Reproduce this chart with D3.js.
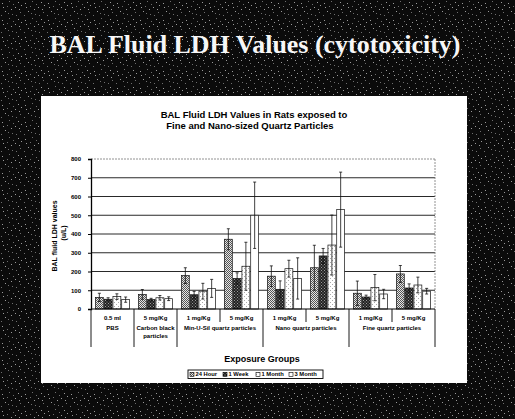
<!doctype html>
<html>
<head>
<meta charset="utf-8">
<title>BAL Fluid LDH Values</title>
<script src="https://cdnjs.cloudflare.com/ajax/libs/d3/7.8.5/d3.min.js"></script>
<style>
  html, body { margin: 0; padding: 0; background: #0b0b0b; }
  svg { display: block; }
  text { font-family: "Liberation Sans", Arial, sans-serif; }
</style>
</head>
<body>
<div id="chart"></div>
<script>
// data
const seriesNames = ['24 Hour', '1 Week', '1 Month', '3 Month'];
const doseLabels = ['0.5 ml', '5 mg/Kg', '1 mg/Kg', '5 mg/Kg', '1 mg/Kg', '5 mg/Kg', '1 mg/Kg', '5 mg/Kg'];
const groupLabels = ['PBS', 'Carbon black particles', 'Min-U-Sil quartz particles', 'Nano quartz particles', 'Fine quartz particles'];
const groupSpans = [1, 1, 2, 2, 2];

const hour24 = [62, 78, 178, 372, 175, 220, 84, 187];
const week1 = [52, 50, 76, 163, 105, 283, 64, 112];
const month1 = [66, 60, 95, 228, 215, 341, 114, 128];
const month3 = [50, 55, 110, 500, 163, 530, 80, 95];

const hour24Err = [22, 26, 42, 56, 55, 120, 65, 45];
const week1Err = [8, 7, 18, 30, 45, 40, 10, 22];
const month1Err = [15, 12, 42, 128, 45, 160, 70, 42];
const month3Err = [14, 10, 48, 177, 110, 200, 25, 15];

const yTicks = d3.range(0, 801, 100);

const W = 515, H = 419;
const svg = d3.select('#chart').append('svg')
  .attr('width', W).attr('height', H);

const defs = svg.append('defs');

// scanned-looking speckle on the slide background
const speck = defs.append('pattern').attr('id', 'speck')
  .attr('width', 23).attr('height', 17).attr('patternUnits', 'userSpaceOnUse');
speck.append('rect').attr('width', 23).attr('height', 17).attr('fill', '#0b0b0b');
[[2, 3], [9, 1], [15, 7], [20, 12], [5, 11], [12, 14], [18, 2], [7, 6], [21, 5], [1, 15],
 [11, 9], [16, 15], [3, 7], [13, 4], [19, 9], [8, 13]]
  .forEach((p, i) => speck.append('rect').attr('x', p[0]).attr('y', p[1])
    .attr('width', 1).attr('height', 1).attr('fill', i % 2 ? '#6e6e6e' : '#9a9a9a'));

// bar fills
function dots(id, bg, fg, step) {
  const p = defs.append('pattern').attr('id', id)
    .attr('width', step).attr('height', step).attr('patternUnits', 'userSpaceOnUse');
  p.append('rect').attr('width', step).attr('height', step).attr('fill', bg);
  p.append('rect').attr('width', 1).attr('height', 1).attr('fill', fg);
  p.append('rect').attr('x', step / 2).attr('y', step / 2).attr('width', 1).attr('height', 1).attr('fill', fg);
}
dots('p24', '#e6e6e6', '#555', 2);
dots('p1w', '#222', '#999', 3);
dots('p1m', '#fff', '#aaa', 4);
const fills = ['url(#p24)', 'url(#p1w)', 'url(#p1m)', '#fff'];

svg.append('rect').attr('width', W).attr('height', H).attr('fill', 'url(#speck)');

// slide title
svg.append('text')
  .attr('x', 255).attr('y', 53)
  .attr('text-anchor', 'middle')
  .attr('textLength', 411).attr('lengthAdjust', 'spacingAndGlyphs')
  .style('font-family', '"Liberation Serif", "Times New Roman", serif')
  .style('font-weight', 'bold').style('font-size', '26px')
  .attr('fill', '#f7f7f7')
  .text('BAL Fluid LDH Values (cytotoxicity)');

// white chart box
svg.append('rect')
  .attr('x', 41).attr('y', 96).attr('width', 426).attr('height', 287)
  .attr('fill', '#fff');

svg.append('text').attr('x', 254).attr('y', 118)
  .attr('text-anchor', 'middle').style('font-weight', 'bold').style('font-size', '9.5px')
  .text('BAL Fluid LDH Values in Rats exposed to');
svg.append('text').attr('x', 250).attr('y', 128.5)
  .attr('text-anchor', 'middle').style('font-weight', 'bold').style('font-size', '9.5px')
  .text('Fine and Nano-sized Quartz Particles');

// scales
const plotL = 91, plotR = 435, plotT = 159, plotB = 309;
const y = d3.scaleLinear().domain([0, 800]).range([plotB, plotT]);
const x0 = d3.scaleBand().domain(d3.range(doseLabels.length)).range([plotL, plotR]);
const x1 = d3.scaleBand().domain(d3.range(seriesNames.length))
  .range([0, x0.bandwidth()]).paddingInner(0.1).paddingOuter(0.5);

const values = [hour24, week1, month1, month3];
const errors = [hour24Err, week1Err, month1Err, month3Err];

// gridlines
svg.append('g').selectAll('line')
  .data(yTicks.filter(d => d > 0))
  .join('line')
  .attr('x1', plotL).attr('x2', plotR)
  .attr('y1', d => y(d)).attr('y2', d => y(d))
  .attr('stroke', d => d == 800 ? '#777' : '#111')
  .attr('stroke-width', d => d == 800 ? 0.8 : 0.9)
  .attr('stroke-dasharray', d => d == 800 ? '2,1' : null);

svg.append('line')
  .attr('x1', plotR).attr('x2', plotR).attr('y1', plotT).attr('y2', plotB)
  .attr('stroke', '#777').attr('stroke-width', 0.8).attr('stroke-dasharray', '2,1');

// bars
const rows = [];
doseLabels.forEach((d, i) => {
  seriesNames.forEach((s, j) => {
    rows.push({ g: i, s: j, v: values[j][i], e: errors[j][i] });
  });
});

const bars = svg.append('g');
bars.selectAll('rect')
  .data(rows)
  .join('rect')
  .attr('x', d => x0(d.g) + x1(d.s))
  .attr('y', d => y(d.v))
  .attr('width', x1.bandwidth())
  .attr('height', d => plotB - y(d.v))
  .attr('fill', d => fills[d.s])
  .attr('stroke', '#111').attr('stroke-width', 0.7);

// error bars
const errG = svg.append('g').attr('stroke', '#111').attr('stroke-width', 0.8);
rows.forEach(d => {
  const cx = x0(d.g) + x1(d.s) + x1.bandwidth() / 2;
  const hi = y(d.v + d.e), lo = y(Math.max(0, d.v - d.e));
  errG.append('line').attr('x1', cx).attr('x2', cx).attr('y1', hi).attr('y2', lo);
  errG.append('line').attr('x1', cx - 1.5).attr('x2', cx + 1.5).attr('y1', hi).attr('y2', hi);
  errG.append('line').attr('x1', cx - 1.5).attr('x2', cx + 1.5).attr('y1', lo).attr('y2', lo);
});

// y axis
const yAxis = svg.append('g')
  .attr('transform', `translate(${plotL},0)`)
  .call(d3.axisLeft(y).tickValues(yTicks).tickSize(3).tickPadding(7));
yAxis.select('.domain').attr('stroke', '#000').attr('stroke-width', 1.3);
yAxis.selectAll('line').attr('stroke', '#000');
yAxis.selectAll('text')
  .style('font-size', '6px').style('font-weight', 'bold')
  .style('font-family', '"Liberation Sans", Arial, sans-serif');

// y title
svg.append('text')
  .attr('transform', 'translate(57,236) rotate(-90)')
  .attr('text-anchor', 'middle').style('font-weight', 'bold').style('font-size', '7px')
  .text('BAL fluid LDH values');
svg.append('text')
  .attr('transform', 'translate(66,233) rotate(-90)')
  .attr('text-anchor', 'middle').style('font-weight', 'bold').style('font-size', '7px')
  .text('(u/L)');

// category axis
const cat = svg.append('g').attr('stroke', '#000');
cat.append('line').attr('x1', plotL).attr('x2', plotR).attr('y1', plotB).attr('y2', plotB)
  .attr('stroke-width', 1.2);

const groupStarts = [];
let acc = 0;
groupSpans.forEach(s => { groupStarts.push(acc); acc += s; });

d3.range(doseLabels.length + 1).forEach(i => {
  const xx = i < doseLabels.length ? x0(i) : plotR;
  const isGroupEdge = i == doseLabels.length || groupStarts.includes(i);
  cat.append('line')
    .attr('x1', xx).attr('x2', xx)
    .attr('y1', plotB).attr('y2', isGroupEdge ? 347 : 322)
    .attr('stroke-width', 0.9);
});

svg.append('g').selectAll('text')
  .data(doseLabels)
  .join('text')
  .attr('x', (d, i) => x0(i) + x0.bandwidth() / 2)
  .attr('y', 319.5)
  .attr('text-anchor', 'middle')
  .style('font-size', '6px').style('font-weight', 'bold')
  .text(d => d);

const groupText = svg.append('g');
groupLabels.forEach((g, k) => {
  const a = x0(groupStarts[k]);
  const b = groupStarts[k] + groupSpans[k] < doseLabels.length ? x0(groupStarts[k] + groupSpans[k]) : plotR;
  const t = groupText.append('text')
    .attr('x', (a + b) / 2).attr('y', 330)
    .attr('text-anchor', 'middle')
    .style('font-size', '6px').style('font-weight', 'bold');
  if (g == 'Carbon black particles') {
    t.append('tspan').attr('x', (a + b) / 2).text('Carbon black');
    t.append('tspan').attr('x', (a + b) / 2).attr('dy', 7.5).text('particles');
  } else {
    t.text(g);
  }
});

svg.append('text').attr('x', 262).attr('y', 361.5)
  .attr('text-anchor', 'middle').style('font-weight', 'bold').style('font-size', '9px')
  .text('Exposure Groups');

// legend
const legX = 188, legY = 370, legW = 135, legH = 8.5;
svg.append('rect').attr('x', legX).attr('y', legY).attr('width', legW).attr('height', legH)
  .attr('fill', '#fff').attr('stroke', '#000').attr('stroke-width', 0.9);
const lx = d3.scaleBand().domain(d3.range(seriesNames.length)).range([legX + 2, legX + legW - 1]);
const leg = svg.append('g').selectAll('g')
  .data(seriesNames)
  .join('g')
  .attr('transform', (d, i) => `translate(${lx(i)},${legY})`);
leg.append('rect').attr('x', 0).attr('y', 2.3).attr('width', 4).attr('height', 4)
  .attr('fill', (d, i) => fills[i]).attr('stroke', '#000').attr('stroke-width', 0.6);
leg.append('text').attr('x', 5.5).attr('y', 6.4)
  .style('font-size', '5.8px').style('font-weight', 'bold')
  .text(d => d);
</script>
</body>
</html>
